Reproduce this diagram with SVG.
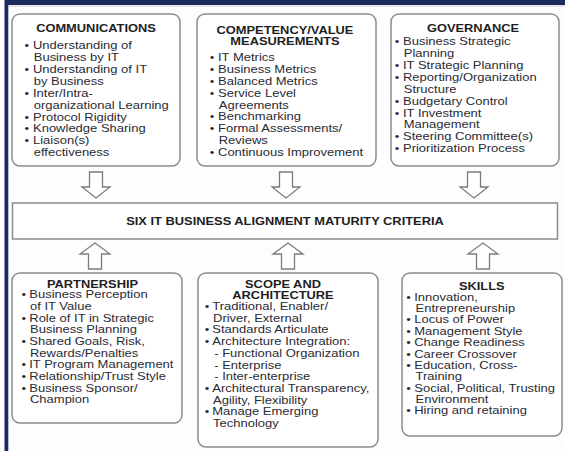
<svg xmlns="http://www.w3.org/2000/svg" width="565" height="451" viewBox="0 0 565 451">
  <style>
    .box { fill: #ffffff; stroke: #8c8c8c; stroke-width: 1.5; }
    .arrow { fill: #ffffff; stroke: #7c7c7c; stroke-width: 1.3; stroke-linejoin: miter; }
    text { font-family: "Liberation Sans", Arial, sans-serif; fill: #2a2a34; }
    .h { font-size: 10.3px; font-weight: bold; text-anchor: middle; fill: #1e1e1e; }
    .t { font-size: 10.4px; }
  </style>

  <!-- page background and frame -->
  <rect x="0" y="0" width="565" height="451" fill="#fcfdfe"/>
  <rect x="5" y="0" width="560" height="5" fill="#1c2a5c"/>
  <rect x="4.5" y="0" width="3.8" height="451" fill="#1c2a5c"/>
  <line x1="8.5" y1="6" x2="565" y2="6" stroke="#c9ccd3" stroke-width="1"/>

  <!-- connectors: block arrows into and out of the central criteria bar -->
  <g id="connectors">
    <path class="arrow" d="M89.5,172 V187 H82 L96,198 L110,187 H102.5 V172 Z"/>
    <path class="arrow" d="M279.5,172 V187 H272 L286,198 L300,187 H292.5 V172 Z"/>
    <path class="arrow" d="M467.5,172 V187 H460 L474,198 L488,187 H480.5 V172 Z"/>
    <path class="arrow" d="M88.5,269 V254 H80 L95,243 L110,254 H101.5 V269 Z"/>
    <path class="arrow" d="M281.5,269 V254 H273 L288,243 L303,254 H294.5 V269 Z"/>
    <path class="arrow" d="M476.5,269 V254 H468 L483,243 L498,254 H489.5 V269 Z"/>
  </g>

  <!-- central bar -->
  <g id="criteria">
    <rect class="box" x="12.5" y="203" width="545" height="36"/>
    <g transform="scale(1.25,1)">
      <text class="h" x="228" y="225.5">SIX IT BUSINESS ALIGNMENT MATURITY CRITERIA</text>
    </g>
  </g>

  <!-- top row -->
  <g id="communications">
    <rect class="box" x="12" y="14" width="168" height="152" rx="8"/>
    <g transform="scale(1.25,1)">
      <text class="h" x="76.8" y="32.5">COMMUNICATIONS</text>
      <text class="t" x="19.6" y="49.5">•</text><text class="t" x="26.4" y="49.5">Understanding of</text>
      <text class="t" x="27" y="61.35">Business by IT</text>
      <text class="t" x="19.6" y="73.2">•</text><text class="t" x="26.4" y="73.2">Understanding of IT</text>
      <text class="t" x="27" y="85.05">by Business</text>
      <text class="t" x="19.6" y="96.9">•</text><text class="t" x="26.4" y="96.9">Inter/Intra-</text>
      <text class="t" x="27" y="108.75">organizational Learning</text>
      <text class="t" x="19.6" y="120.6">•</text><text class="t" x="26.4" y="120.6">Protocol Rigidity</text>
      <text class="t" x="19.6" y="132.45">•</text><text class="t" x="26.4" y="132.45">Knowledge Sharing</text>
      <text class="t" x="19.6" y="144.3">•</text><text class="t" x="26.4" y="144.3">Liaison(s)</text>
      <text class="t" x="27" y="156.15">effectiveness</text>
    </g>
  </g>

  <g id="competency">
    <rect class="box" x="197" y="14" width="179" height="152" rx="8"/>
    <g transform="scale(1.25,1)">
      <text class="h" x="228" y="34">COMPETENCY/VALUE</text>
      <text class="h" x="228" y="45">MEASUREMENTS</text>
      <text class="t" x="167.8" y="61">•</text><text class="t" x="174.4" y="61">IT Metrics</text>
      <text class="t" x="167.8" y="72.9">•</text><text class="t" x="174.4" y="72.9">Business Metrics</text>
      <text class="t" x="167.8" y="84.8">•</text><text class="t" x="174.4" y="84.8">Balanced Metrics</text>
      <text class="t" x="167.8" y="96.7">•</text><text class="t" x="174.4" y="96.7">Service Level</text>
      <text class="t" x="175" y="108.6">Agreements</text>
      <text class="t" x="167.8" y="120.5">•</text><text class="t" x="174.4" y="120.5">Benchmarking</text>
      <text class="t" x="167.8" y="132.4">•</text><text class="t" x="174.4" y="132.4">Formal Assessments/</text>
      <text class="t" x="175" y="144.3">Reviews</text>
      <text class="t" x="167.8" y="156.2">•</text><text class="t" x="174.4" y="156.2">Continuous Improvement</text>
    </g>
  </g>

  <g id="governance">
    <rect class="box" x="391" y="14" width="168" height="152" rx="8"/>
    <g transform="scale(1.25,1)">
      <text class="h" x="378.4" y="32.5">GOVERNANCE</text>
      <text class="t" x="315.8" y="45.2">•</text><text class="t" x="322.4" y="45.2">Business Strategic</text>
      <text class="t" x="323" y="57.1">Planning</text>
      <text class="t" x="315.8" y="69">•</text><text class="t" x="322.4" y="69">IT Strategic Planning</text>
      <text class="t" x="315.8" y="80.9">•</text><text class="t" x="322.4" y="80.9">Reporting/Organization</text>
      <text class="t" x="323" y="92.8">Structure</text>
      <text class="t" x="315.8" y="104.7">•</text><text class="t" x="322.4" y="104.7">Budgetary Control</text>
      <text class="t" x="315.8" y="116.6">•</text><text class="t" x="322.4" y="116.6">IT Investment</text>
      <text class="t" x="323" y="128.5">Management</text>
      <text class="t" x="315.8" y="140.4">•</text><text class="t" x="322.4" y="140.4">Steering Committee(s)</text>
      <text class="t" x="315.8" y="152.3">•</text><text class="t" x="322.4" y="152.3">Prioritization Process</text>
    </g>
  </g>

  <!-- bottom row -->
  <g id="partnership">
    <rect class="box" x="12" y="273" width="170" height="150" rx="8"/>
    <g transform="scale(1.25,1)">
      <text class="h" x="74" y="288.5">PARTNERSHIP</text>
      <text class="t" x="17.2" y="298.5">•</text><text class="t" x="23.4" y="298.5">Business Perception</text>
      <text class="t" x="24" y="310.2">of IT Value</text>
      <text class="t" x="17.2" y="321.8">•</text><text class="t" x="23.4" y="321.8">Role of IT in Strategic</text>
      <text class="t" x="24" y="333.5">Business Planning</text>
      <text class="t" x="17.2" y="345.2">•</text><text class="t" x="23.4" y="345.2">Shared Goals, Risk,</text>
      <text class="t" x="24" y="356.9">Rewards/Penalties</text>
      <text class="t" x="17.2" y="368.5">•</text><text class="t" x="23.4" y="368.5">IT Program Management</text>
      <text class="t" x="17.2" y="380.2">•</text><text class="t" x="23.4" y="380.2">Relationship/Trust Style</text>
      <text class="t" x="17.2" y="391.9">•</text><text class="t" x="23.4" y="391.9">Business Sponsor/</text>
      <text class="t" x="24" y="403.5">Champion</text>
    </g>
  </g>

  <g id="scope-architecture">
    <rect class="box" x="198" y="273" width="180" height="174" rx="8"/>
    <g transform="scale(1.25,1)">
      <text class="h" x="226.4" y="288.5">SCOPE AND</text>
      <text class="h" x="226.4" y="299.5">ARCHITECTURE</text>
      <text class="t" x="163.8" y="310.2">•</text><text class="t" x="169.8" y="310.2">Traditional, Enabler/</text>
      <text class="t" x="170.4" y="321.9">Driver, External</text>
      <text class="t" x="163.8" y="333.5">•</text><text class="t" x="169.8" y="333.5">Standards Articulate</text>
      <text class="t" x="163.8" y="345.2">•</text><text class="t" x="169.8" y="345.2">Architecture Integration:</text>
      <text class="t" x="171.4" y="356.9">- Functional Organization</text>
      <text class="t" x="171.4" y="368.6">- Enterprise</text>
      <text class="t" x="171.4" y="380.2">- Inter-enterprise</text>
      <text class="t" x="163.8" y="391.9">•</text><text class="t" x="169.8" y="391.9">Architectural Transparency,</text>
      <text class="t" x="170.4" y="403.6">Agility, Flexibility</text>
      <text class="t" x="163.8" y="415.2">•</text><text class="t" x="169.8" y="415.2">Manage Emerging</text>
      <text class="t" x="170.4" y="426.9">Technology</text>
    </g>
  </g>

  <g id="skills">
    <rect class="box" x="402" y="273" width="160" height="163" rx="8"/>
    <g transform="scale(1.25,1)">
      <text class="h" x="385.4" y="290">SKILLS</text>
      <text class="t" x="325" y="300.8">•</text><text class="t" x="331.4" y="300.8">Innovation,</text>
      <text class="t" x="332.4" y="312.2">Entrepreneurship</text>
      <text class="t" x="325" y="323.5">•</text><text class="t" x="331.4" y="323.5">Locus of Power</text>
      <text class="t" x="325" y="334.9">•</text><text class="t" x="331.4" y="334.9">Management Style</text>
      <text class="t" x="325" y="346.3">•</text><text class="t" x="331.4" y="346.3">Change Readiness</text>
      <text class="t" x="325" y="357.7">•</text><text class="t" x="331.4" y="357.7">Career Crossover</text>
      <text class="t" x="325" y="369">•</text><text class="t" x="331.4" y="369">Education, Cross-</text>
      <text class="t" x="332.4" y="380.4">Training</text>
      <text class="t" x="325" y="391.8">•</text><text class="t" x="331.4" y="391.8">Social, Political, Trusting</text>
      <text class="t" x="332.4" y="403.2">Environment</text>
      <text class="t" x="325" y="414.5">•</text><text class="t" x="331.4" y="414.5">Hiring and retaining</text>
    </g>
  </g>
</svg>
